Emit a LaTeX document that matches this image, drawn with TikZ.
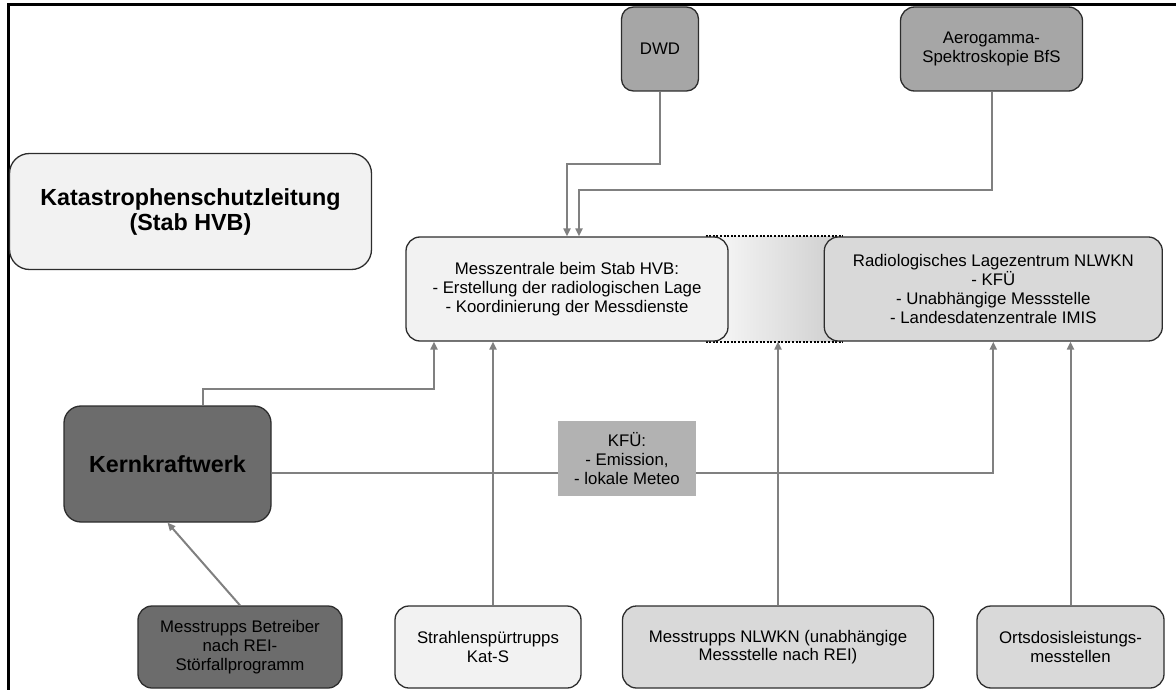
\documentclass[tikz,border=0pt]{standalone}
\usepackage{fontspec}
\setmainfont{Liberation Sans}
\usetikzlibrary{arrows.meta, positioning, backgrounds}
\definecolor{BoxLine}{RGB}{45, 45, 45}
\definecolor{PaleGray}{RGB}{242, 242, 242}
\definecolor{LightGray}{RGB}{217, 217, 217}
\definecolor{MidGray}{RGB}{166, 166, 166}
\definecolor{DarkGray}{RGB}{108, 108, 108}
\definecolor{KfuGray}{RGB}{178, 178, 178}
\definecolor{LinkGray}{RGB}{128, 128, 128}
\definecolor{BandLeft}{RGB}{250, 250, 250}
\definecolor{BandRight}{RGB}{205, 205, 205}

\begin{document}
\begin{tikzpicture}[x=1pt, y=-1pt,
    box/.style={draw=BoxLine, line width=1.3pt, rounded corners=14pt, align=center, inner sep=0pt, font=\fontsize{16.8}{18.7}\selectfont},
    bigbox/.style={box, rounded corners=20pt, font=\fontsize{23.3}{25}\selectfont\bfseries},
    link/.style={draw=LinkGray, line width=2pt, -{Triangle[length=8pt, width=7pt]}},
    dotline/.style={draw=black, line width=2pt, dash pattern=on 2pt off 1.6pt}]
    \useasboundingbox (0,0) rectangle (1176,690);
    % frame
    \draw[line width=3pt] (8,690) -- (8,5) -- (1176,5);

    % top row
    \node[bigbox, fill=PaleGray, minimum width=362pt, minimum height=116pt] (kats) at (190.5,211.5) {Katastrophenschutzleitung\\(Stab HVB)};
    \node[box, fill=MidGray, rounded corners=12pt, minimum width=77pt, minimum height=84pt] (dwd) at (660,49) {DWD};
    \node[box, fill=MidGray, minimum width=182pt, minimum height=84pt] (aero) at (991.5,49) {Aerogamma-\\Spektroskopie BfS};

    % centres
    \node[box, fill=PaleGray, minimum width=322pt, minimum height=104pt] (mess) at (567,289) {Messzentrale beim Stab HVB:\\- Erstellung der radiologischen Lage\\- Koordinierung der Messdienste};
    \node[box, fill=LightGray, minimum width=338pt, minimum height=104pt, right=95pt of mess] (radio) {Radiologisches Lagezentrum NLWKN\\- KFÜ\\- Unabhängige Messstelle\\- Landesdatenzentrale IMIS};
    \begin{scope}[on background layer]
        \shade[left color=BandLeft, right color=BandRight] ([xshift=-23pt]mess.north east) rectangle ([xshift=19pt]radio.south west);
        \draw[dotline] ([xshift=-23pt]mess.north east) -- ([xshift=19pt]radio.north west);
        \draw[dotline] ([xshift=-23pt]mess.south east) -- ([xshift=19pt]radio.south west);
    \end{scope}

    \node[bigbox, fill=DarkGray, rounded corners=17pt, minimum width=207pt, minimum height=116pt] (kkw) at (167.5,464) {Kernkraftwerk};

    % bottom row
    \node[box, fill=DarkGray, minimum width=204pt, minimum height=82pt] (betr) at (240,647) {Messtrupps Betreiber\\nach REI-\\Störfallprogramm};
    \node[box, fill=PaleGray, minimum width=186pt, minimum height=82pt] (katsm) at (488,647) {Strahlenspürtrupps\\Kat-S};
    \node[box, fill=LightGray, minimum width=311pt, minimum height=82pt] (nlwkn) at (778,647) {Messtrupps NLWKN (unabhängige\\Messstelle nach REI)};
    \node[box, fill=LightGray, minimum width=187pt, minimum height=82pt] (odl) at (1070.5,647) {Ortsdosisleistungs-\\messtellen};

    % connectors
    \draw[link] (dwd.south) -- ++(0,72) -| (mess.north);
    \draw[link] (aero.south) -- ++(0,98) -| ([xshift=12pt]mess.north);
    \draw[link] ([xshift=35pt]kkw.north) -- ++(0,-16) -| ([xshift=-133pt]mess.south);
    \draw[link] (betr.north) -- (kkw.south);
    \draw[link] ([xshift=5pt]katsm.north) -- ([xshift=5pt]katsm.north |- mess.south);
    \draw[link] (nlwkn.north) -- (nlwkn.north |- mess.south);
    \draw[link] (odl.north) -- (odl.north |- radio.south);
    \draw[link] ([yshift=-9pt]kkw.east) -| (radio.south);
    \node[fill=KfuGray, minimum width=138pt, minimum height=75pt, align=center, inner sep=0pt, font=\fontsize{16.8}{18.7}\selectfont] (kfu) at (627,458.5) {KFÜ:\\- Emission,\\- lokale Meteo};
\end{tikzpicture}
\end{document}
